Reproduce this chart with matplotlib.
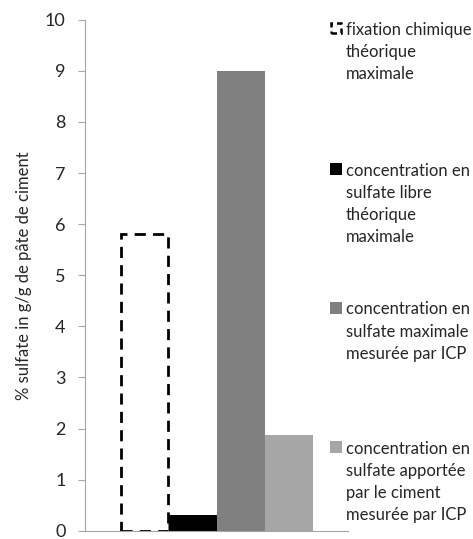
import matplotlib.pyplot as plt
from matplotlib.patches import Rectangle

# data
labels = [['fixation chimique', 'théorique', 'maximale'],
          ['concentration en', 'sulfate libre', 'théorique', 'maximale'],
          ['concentration en', 'sulfate maximale', 'mesurée par ICP'],
          ['concentration en', 'sulfate apportée', 'par le ciment', 'mesurée par ICP']]
values = [5.8, 0.3, 9.0, 1.87]
colors = ['white', 'black', '#808080', '#a6a6a6']
yticks = list(range(0, 11))

plt.rcParams['font.family'] = ['Lato', 'DejaVu Sans']

W, H = 473, 539
fig = plt.figure(figsize=(4.73, 5.39), dpi=100)
ax = fig.add_axes([85 / W, 1 - 530.7 / H, (348 - 85) / W, (530.7 - 19.7) / H])

w = 0.733 / 4
x0 = -0.733 / 2 + w / 2
for i, v in enumerate(values):
    x = x0 + i * w
    if i == 0:
        ax.bar(x, v, width=w * 0.97, color='white', edgecolor='black',
               linewidth=2.0, linestyle=(0, (4, 2.6)), zorder=3)
    else:
        ax.bar(x, v, width=w, color=colors[i], edgecolor='none', zorder=2)

ax.set_xlim(-0.5, 0.5)
ax.set_ylim(0, 10)
ax.set_yticks(yticks)
ax.set_xticks([])
for s in ['top', 'right']:
    ax.spines[s].set_visible(False)
ax.spines['left'].set_color('#a6a6a6')
ax.spines['bottom'].set_color('#a6a6a6')
ax.tick_params(axis='y', direction='out', length=5, color='#a6a6a6',
               labelsize=13, labelcolor='#262626', pad=9)
ax.set_ylabel('% sulfate in g/g de pâte de ciment', fontsize=12,
              color='#262626', labelpad=9)

# legend drawn by hand
leg_y = [28, 169, 308, 447]
line_h = 22.2
for i, lines in enumerate(labels):
    y = leg_y[i]
    if i == 0:
        r = Rectangle((331 / W, 1 - (y + 5) / H), 10 / W, 10 / H,
                      transform=fig.transFigure, facecolor='white',
                      edgecolor='black', linewidth=1.8, linestyle=(0, (2.2, 1.6)))
    else:
        r = Rectangle((330 / W, 1 - (y + 6) / H), 12 / W, 12 / H,
                      transform=fig.transFigure, facecolor=colors[i],
                      edgecolor='none')
    fig.patches.append(r)
    for k, txt in enumerate(lines):
        fig.text(346 / W, 1 - (y + k * line_h) / H, txt, fontsize=12,
                 color='#262626', va='center_baseline', ha='left')

fig.savefig('out.png', dpi=100)
